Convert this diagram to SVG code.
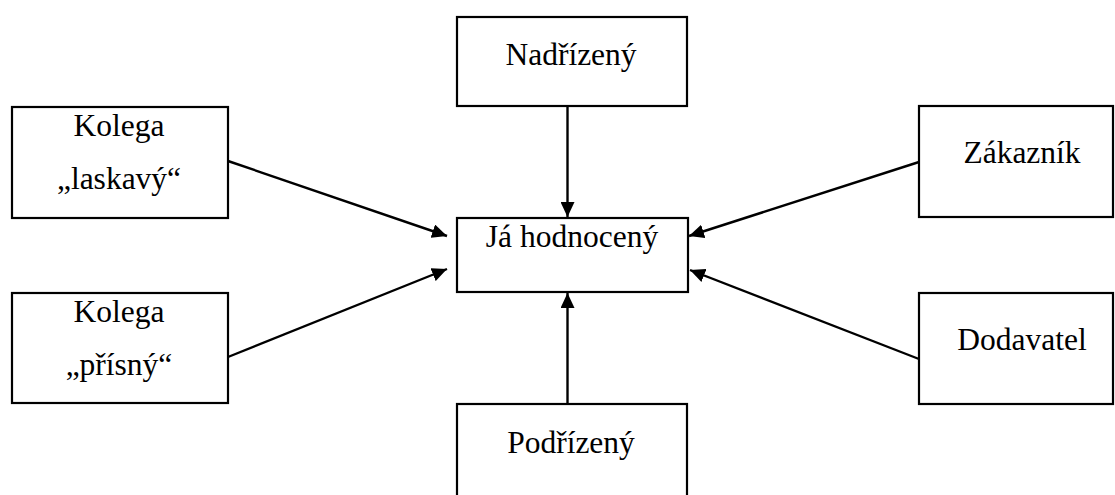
<svg xmlns="http://www.w3.org/2000/svg" width="1115" height="495" viewBox="0 0 1115 495">
  <style>
    .box { fill: #ffffff; stroke: #000000; stroke-width: 2.2; }
    .label { font-family: "Liberation Serif", "Times New Roman", serif; font-size: 31.5px; fill: #000000; text-anchor: middle; }
    .link { fill: none; stroke: #000000; stroke-width: 2.4; marker-end: url(#arrow); }
  </style>
  <defs>
    <marker id="arrow" markerUnits="userSpaceOnUse" markerWidth="15" markerHeight="14" refX="15" refY="7" orient="auto">
      <path d="M0,0 L15,7 L0,14 Z" fill="#000000"/>
    </marker>
  </defs>
  <rect width="1115" height="495" fill="#ffffff"/>

  <g id="nadrizeny">
    <rect class="box" x="457" y="17" width="230" height="89"/>
    <text class="label" x="571" y="65">Nadřízený</text>
  </g>

  <g id="kolega-laskavy">
    <rect class="box" x="12" y="107" width="216" height="111"/>
    <text class="label" x="119" y="136">Kolega</text>
    <text class="label" x="119" y="189">„laskavý“</text>
  </g>

  <g id="zakaznik">
    <rect class="box" x="919" y="106" width="194" height="111"/>
    <text class="label" x="1022" y="163">Zákazník</text>
  </g>

  <g id="ja-hodnoceny">
    <rect class="box" x="457" y="218" width="231" height="74"/>
    <text class="label" x="572" y="247">Já hodnocený</text>
  </g>

  <g id="kolega-prisny">
    <rect class="box" x="12" y="293" width="216" height="110"/>
    <text class="label" x="119" y="322">Kolega</text>
    <text class="label" x="119" y="375">„přísný“</text>
  </g>

  <g id="dodavatel">
    <rect class="box" x="919" y="293" width="194" height="111"/>
    <text class="label" x="1022" y="350">Dodavatel</text>
  </g>

  <g id="podrizeny">
    <rect class="box" x="457" y="404" width="230" height="120"/>
    <text class="label" x="571" y="453">Podřízený</text>
  </g>

  <g id="connectors">
    <line class="link" x1="567.5" y1="106" x2="567.5" y2="217"/>
    <line class="link" x1="567.5" y1="404" x2="567.5" y2="293"/>
    <line class="link" x1="228" y1="161" x2="447" y2="236"/>
    <line class="link" x1="228" y1="357" x2="447" y2="269"/>
    <line class="link" x1="919" y1="162" x2="689" y2="236"/>
    <line class="link" x1="919" y1="359" x2="690" y2="270"/>
  </g>
</svg>
